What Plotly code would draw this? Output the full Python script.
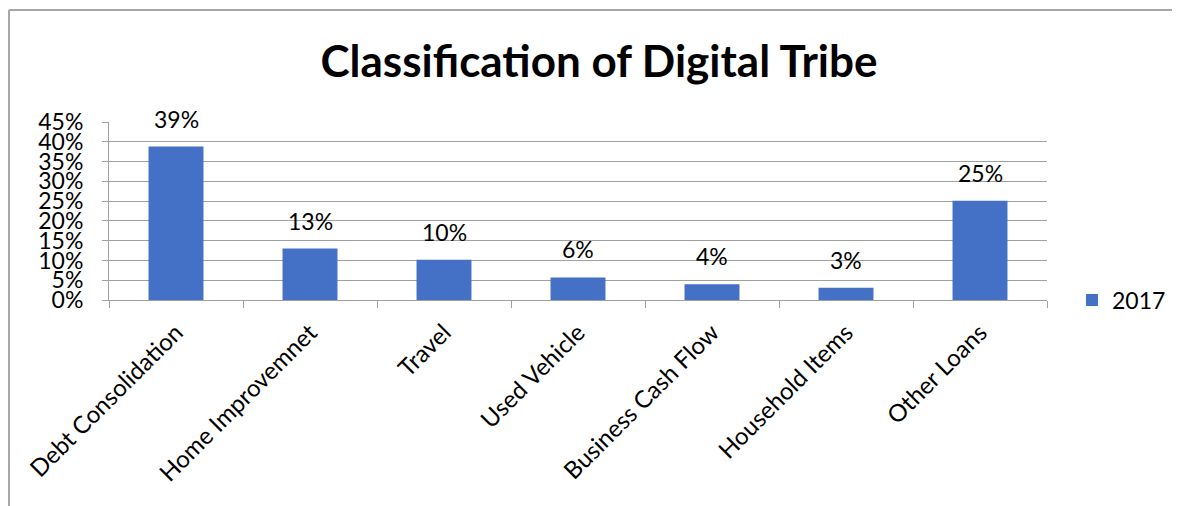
import plotly.graph_objects as go

categories = ["Debt Consolidation", "Home Improvemnet", "Travel", "Used Vehicle",
              "Business Cash Flow", "Household Items", "Other Loans"]
values_2017 = [0.388, 0.13, 0.102, 0.057, 0.04, 0.031, 0.251]
labels_2017 = ["39%", "13%", "10%", "6%", "4%", "3%", "25%"]
series_name = "2017"
title_text = "Classification of Digital Tribe"

FONT = "Lato, 'Open Sans', sans-serif"
OFF = 8  # default page body margin
W, H = 1180 - OFF, 506 - OFF
# plot area in reference page pixels: x 109..1047, y 122..300
L, T = 109 - OFF, 122 - OFF
R = W - (1047 - OFF)
B = H - (300 - OFF)
pw = W - L - R
ph = H - T - B

fig = go.Figure()
fig.add_trace(go.Bar(
    x=categories, y=values_2017, name=series_name,
    marker=dict(color="#4471C6", line=dict(width=0)),
    showlegend=True,
))

for c, v, t in zip(categories, values_2017, labels_2017):
    fig.add_annotation(x=c, y=v, text=t, showarrow=False, yanchor="bottom",
                       yshift=12, font=dict(family=FONT, size=23, color="#000"))

def px2x(p):
    return (p - OFF - L) / pw

def px2y(p):
    return (H - B - (p - OFF)) / ph

border = "#A6A6A6"
fig.add_shape(type="line", xref="paper", yref="paper",
              x0=px2x(9), x1=px2x(1190), y0=px2y(10), y1=px2y(10),
              line=dict(color=border, width=2))
fig.add_shape(type="line", xref="paper", yref="paper",
              x0=px2x(9), x1=px2x(9), y0=px2y(10), y1=px2y(515),
              line=dict(color=border, width=2))

fig.update_layout(
    width=W, height=H,
    margin=dict(l=L, r=R, t=T, b=B, autoexpand=False),
    paper_bgcolor="white", plot_bgcolor="white",
    bargap=0.59,
    title=dict(text="<b>" + title_text + "</b>", x=px2x(599), xanchor="center",
               xref="paper", y=1 - (62 - OFF) / H, yanchor="middle",
               font=dict(family=FONT, size=44, color="#000")),
    font=dict(family=FONT, size=23, color="#000"),
    showlegend=True,
    legend=dict(x=px2x(1072), y=0.0, xanchor="left", yanchor="middle",
                font=dict(family=FONT, size=23, color="#000"),
                bgcolor="rgba(0,0,0,0)", itemwidth=30),
    yaxis=dict(range=[0, 0.45], dtick=0.05, tickformat=".0%",
               showgrid=True, gridcolor="#A0A0A0", gridwidth=1,
               showline=True, linecolor="#A0A0A0", linewidth=1,
               ticks="outside", ticklen=6, tickcolor="#A0A0A0",
               ticklabelstandoff=14, automargin=False,
               tickfont=dict(family=FONT, size=23, color="#000"),
               zeroline=False, fixedrange=True),
    xaxis=dict(showline=True, linecolor="#A0A0A0", linewidth=1,
               ticks="outside", ticklen=7, tickcolor="#A0A0A0",
               tickson="boundaries", tickangle=-45, ticklabelstandoff=8,
               automargin=False,
               tickfont=dict(family=FONT, size=24, color="#000"),
               showgrid=False, fixedrange=True),
)

fig.write_html("out.html")
